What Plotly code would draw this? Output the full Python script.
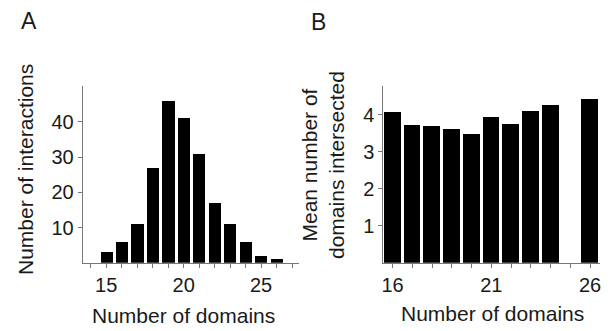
import plotly.graph_objects as go

# Panel A data
a_domains = [15, 16, 17, 18, 19, 20, 21, 22, 23, 24, 25, 26]
a_counts = [3, 6, 11, 27, 46, 41, 31, 17, 11, 6, 2, 1]
a_xticks = [15, 20, 25]
a_yticks = [10, 20, 30, 40]

# Panel B data
b_domains = [16, 17, 18, 19, 20, 21, 22, 23, 24, 26]
b_means = [4.07, 3.73, 3.70, 3.60, 3.48, 3.92, 3.75, 4.10, 4.27, 4.41]
b_xticks = [16, 21, 26]
b_yticks = [1, 2, 3, 4]

# the page body has an 8px margin, so the figure is drawn 8px in from the corner
OFF = 8
W, H = 612 - OFF, 331 - OFF
FONT = "Liberation Sans, Arial, sans-serif"
TXT = "#1a1a1a"
TICKSIZE = 20
TITLESIZE = 21

fig = go.Figure()
fig.add_trace(go.Bar(x=a_domains, y=a_counts, width=0.78, marker=dict(color="black", line=dict(width=0)),
                     xaxis="x", yaxis="y", showlegend=False))
fig.add_trace(go.Bar(x=b_domains, y=b_means, width=0.85, marker=dict(color="black", line=dict(width=0)),
                     xaxis="x2", yaxis="y2", showlegend=False))

def px_x(p):
    return (p - OFF) / W

def px_y(p):
    return 1 - (p - OFF) / H

axis_common = dict(showgrid=False, zeroline=False, showline=True, linecolor="#777", linewidth=1,
                   ticks="outside", ticklen=4, tickcolor="#777", automargin=False,
                   tickfont=dict(family=FONT, size=TICKSIZE, color=TXT))

def ann(text, x, y, size, angle=0):
    return dict(text=text, x=px_x(x), y=px_y(y), xref="paper", yref="paper", showarrow=False,
                font=dict(family=FONT, size=size, color=TXT), xanchor="center", yanchor="middle",
                textangle=angle, borderpad=0)

fig.update_layout(
    width=W, height=H,
    margin=dict(l=0, r=0, t=0, b=0),
    paper_bgcolor="white", plot_bgcolor="white",
    bargap=0,
    xaxis=dict(domain=[px_x(82.7), px_x(299.3)], range=[13.48, 27.47], anchor="y",
               tickmode="array", tickvals=list(range(14, 28)),
               ticktext=[str(v) if v in a_xticks else "" for v in range(14, 28)],
               **axis_common),
    yaxis=dict(domain=[px_y(262.7), px_y(86)], range=[0, 50.2], anchor="x",
               tickmode="array", tickvals=a_yticks,
               **axis_common),
    xaxis2=dict(domain=[px_x(383.3), px_x(600)], range=[15.53, 26.5], anchor="y2",
                tickmode="array", tickvals=list(range(16, 27)),
                ticktext=[str(v) if v in b_xticks else "" for v in range(16, 27)],
                **axis_common),
    yaxis2=dict(domain=[px_y(262.7), px_y(86)], range=[0, 4.77], anchor="x2",
                tickmode="array", tickvals=b_yticks,
                **axis_common),
    annotations=[
        ann("A", 29, 21, 23),
        ann("B", 318, 22, 23),
        ann("Number of domains", 183, 315, TITLESIZE),
        ann("Number of domains", 492, 313, TITLESIZE),
        ann("Number of interactions", 25, 170, TITLESIZE, -90),
        ann("Mean number of<br>domains intersected", 323, 165, TITLESIZE, -90),
    ],
)

fig.write_html("out.html")
